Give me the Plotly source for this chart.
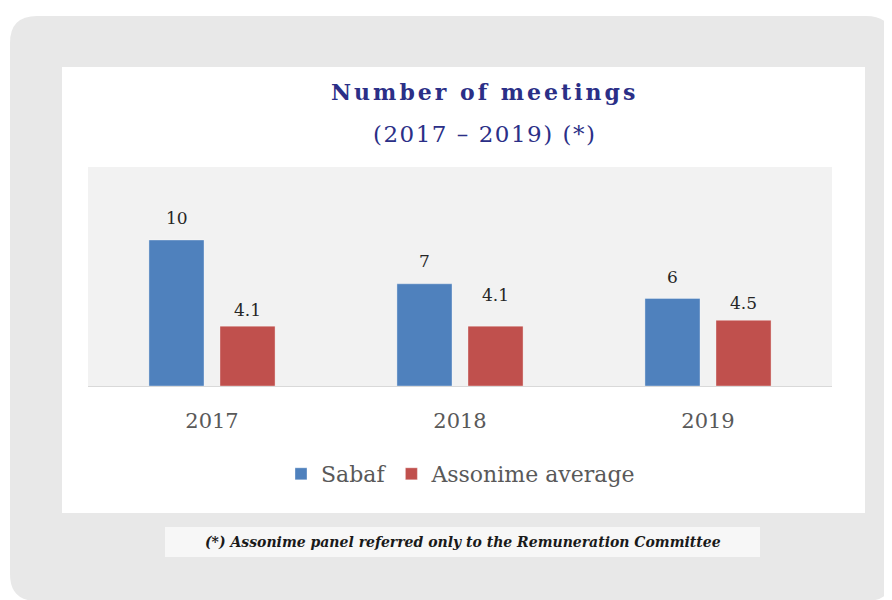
import plotly.graph_objects as go

years = ["2017", "2018", "2019"]
sabaf = [10, 7, 6]
assonime = [4.1, 4.1, 4.5]
series_names = ["Sabaf", "Assonime average"]

title = "Number of meetings"
subtitle = "(2017 – 2019) (*)"
footnote = "(*) Assonime panel referred only to the Remuneration Committee"

BLUE = "#4F81BD"
RED = "#C0504D"
NAVY = "#2b2f87"

# the page body has an 8px margin, so the figure sits at (8, 8)
OFF = 8
FW, FH = 892 - OFF, 600 - OFF
# plot area in page pixels
L, R, T, B = 88, 832, 167, 386
W, H = R - L, B - T


def px(x):
    return (x - L) / W


def py(y):
    return (B - y) / H


def rounded_rect(x0, y0, x1, y1, r):
    pts = [
        ("M", x0 + r, y0), ("L", x1 - r, y0), ("Q", x1, y0, x1, y0 + r),
        ("L", x1, y1 - r), ("Q", x1, y1, x1 - r, y1), ("L", x0 + r, y1),
        ("Q", x0, y1, x0, y1 - r), ("L", x0, y0 + r), ("Q", x0, y0, x0 + r, y0),
    ]
    out = []
    for p in pts:
        cmd, coords = p[0], p[1:]
        xy = []
        for i in range(0, len(coords), 2):
            xy.append(f"{px(coords[i]):.5f},{py(coords[i + 1]):.5f}")
        out.append(cmd + " ".join(xy))
    return " ".join(out) + " Z"


def box(x0, y0, x1, y1, color):
    return dict(type="rect", xref="paper", yref="paper", layer="below",
                x0=px(x0), x1=px(x1), y0=py(y1), y1=py(y0),
                fillcolor=color, line=dict(width=0))


def spaced(text, sp):
    return f'<span style="letter-spacing:{sp}px">{text}</span>'


fig = go.Figure()
fig.add_trace(go.Bar(x=years, y=sabaf, name=series_names[0],
                     marker=dict(color=BLUE, line=dict(color="rgba(255,255,255,0.35)", width=1))))
fig.add_trace(go.Bar(x=years, y=assonime, name=series_names[1],
                     marker=dict(color=RED, line=dict(color="rgba(255,255,255,0.35)", width=1))))

shapes = [
    dict(type="path", xref="paper", yref="paper", layer="below",
         path=rounded_rect(10, 16, 893, 601, 27), fillcolor="#e8e8e8", line=dict(width=0)),
    box(62, 67, 865, 513, "white"),
    box(L, T, R, B, "#f2f2f2"),
    box(165, 527, 760, 557, "#f7f7f7"),
]

annotations = [
    dict(xref="paper", yref="paper", x=px(484), y=py(92), showarrow=False,
         xanchor="center", yanchor="middle",
         text="<b>" + spaced(title, 3) + "</b>",
         font=dict(family="DejaVu Serif", size=22, color=NAVY)),
    dict(xref="paper", yref="paper", x=px(484), y=py(134), showarrow=False,
         xanchor="center", yanchor="middle",
         text=spaced(subtitle, 1.5), font=dict(family="DejaVu Serif", size=23, color=NAVY)),
    dict(xref="paper", yref="paper", x=px(463), y=py(542), showarrow=False,
         xanchor="center", yanchor="middle",
         text="<b><i>" + footnote + "</i></b>",
         font=dict(family="DejaVu Serif", size=14, color="#1a1a1a")),
]

# value labels: the original places them by hand, so the gap above the bar varies
# (x is the category's serial number, as plotly wants for category axes)
pads = [[10, 11, 9], [4, 19, 5]]
for k, vals in enumerate([sabaf, assonime]):
    for i, v in enumerate(vals):
        annotations.append(dict(
            x=i, y=v, xref="x", yref="y", showarrow=False,
            xshift=-35.5 if k == 0 else 35.5, yshift=pads[k][i],
            yanchor="bottom", text=f"{v:g}",
            font=dict(family="DejaVu Serif", size=17, color="#262626")))

fig.update_layout(
    width=FW, height=FH,
    margin=dict(l=L - OFF, r=892 - R, t=T - OFF, b=600 - B, pad=0),
    paper_bgcolor="white", plot_bgcolor="rgba(0,0,0,0)",
    barmode="group", bargap=0.427, bargroupgap=0.225,
    shapes=shapes, annotations=annotations,
    showlegend=True,
    legend=dict(orientation="h", xanchor="center", yanchor="middle",
                x=px(461), y=py(474), bgcolor="rgba(0,0,0,0)",
                font=dict(family="DejaVu Serif", size=22, color="#595959"),
                itemclick=False),
    font=dict(family="DejaVu Serif"),
)
fig.update_xaxes(type="category", range=[-0.5, 2.5],
                 showline=True, linecolor="#d9d9d9", linewidth=1,
                 showgrid=False, zeroline=False,
                 ticks="outside", ticklen=16, tickcolor="rgba(0,0,0,0)",
                 tickfont=dict(family="DejaVu Serif", size=21, color="#595959"))
fig.update_yaxes(range=[0, 15], visible=False, showgrid=False, zeroline=False)

fig.write_html("out.html")
